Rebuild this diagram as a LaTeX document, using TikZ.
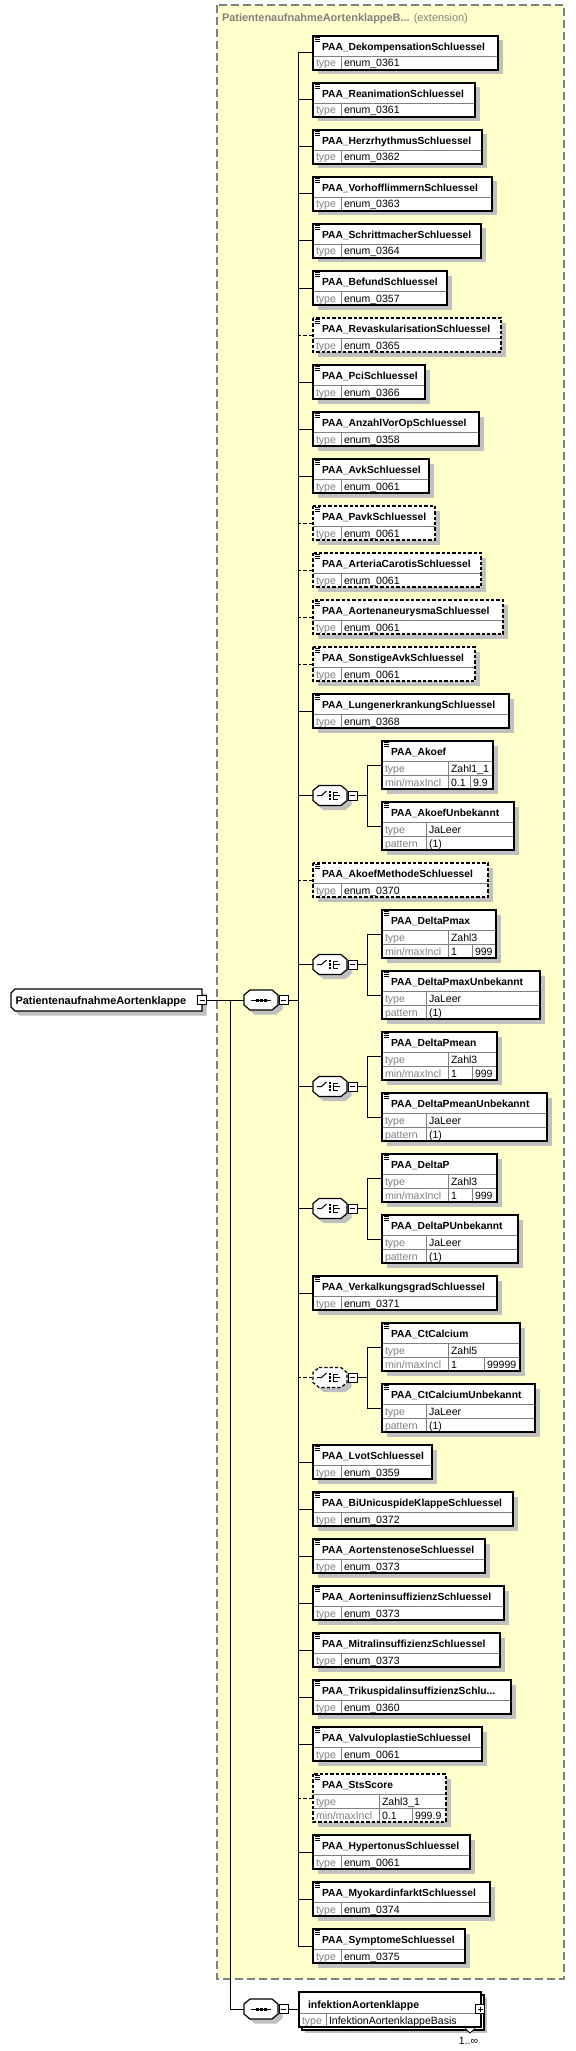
\documentclass[tikz,border=0pt]{standalone}
\usepackage{fontspec}
\setmainfont{Liberation Sans}
\definecolor{yfill}{RGB}{255,255,204}
\definecolor{dgray}{RGB}{128,128,128}
\definecolor{shad}{RGB}{192,192,192}
\definecolor{sepc}{RGB}{128,128,128}
\tikzset{
  every node/.style={inner sep=0pt, outer sep=0pt},
  nmf/.style={font=\fontsize{7.7}{9}\selectfont\bfseries, anchor=base west},
  lbf/.style={font=\fontsize{7.9}{9}\selectfont, text=dgray, anchor=base west},
  vlf/.style={font=\fontsize{7.9}{9}\selectfont, anchor=base west},
  bx/.style={draw=black, line width=0.9pt},
  optbx/.style={bx, dash pattern=on 2.4pt off 1.6pt},
  sp/.style={draw=sepc, line width=0.7pt},
  cn/.style={draw=black, line width=0.75pt},
  optcn/.style={cn, dash pattern=on 2.4pt off 1.6pt},
  shd/.style={fill=shad},
  smallbox/.style={fill=white, draw=black, line width=0.7pt},
}
\def\xsbx{bx}
\newcommand\xsicon[2]{%
  \draw[line width=0.5pt] (#1+2,#2+1.7) -- (#1+7,#2+1.7) (#1+2,#2+3.3) -- (#1+7,#2+3.3) (#1+2,#2+4.9) -- (#1+7,#2+4.9);}
% simple element: id, top, right, border style, connector style, name, type
\newcommand\xssel[7]{%
  \fill[shd] (317.5,#2+4.5) rectangle (#3+4.5,#2+38.5);
  \fill[white] (313,#2) rectangle (#3,#2+34);
  \draw[sp] (313,#2+20) -- (#3,#2+20) (341,#2+20) -- (341,#2+34);
  \draw[#4] (313,#2) rectangle (#3,#2+34);
  \xsicon{313}{#2}
  \node[nmf] (#1n) at (322,#2+14.7) {#6};
  \node[lbf] (#1l) at (316,#2+31) {type};
  \node[vlf] (#1v) at (344,#2+31) {#7};
  \coordinate (#1) at (313,#2+17);
  \draw[#5] (spine |- #1) -- (#1);
}
% min/max element: id, left, top, right, split, name, type, min, max
\newcommand\xsmm[9]{%
  \fill[shd] (#2+4.5,#3+4.5) rectangle (#4+4.5,#3+52.5);
  \fill[white] (#2,#3) rectangle (#4,#3+48);
  \draw[sp] (#2,#3+20) -- (#4,#3+20) (#2,#3+34) -- (#4,#3+34) (#2+66,#3+20) -- (#2+66,#3+48) (#5,#3+34) -- (#5,#3+48);
  \draw[\xsbx] (#2,#3) rectangle (#4,#3+48);
  \xsicon{#2}{#3}
  \node[nmf] (#1n) at (#2+9,#3+14.7) {#6};
  \node[lbf] (#1a) at (#2+3,#3+31) {type};
  \node[lbf] (#1b) at (#2+3,#3+45) {min/maxIncl};
  \node[vlf] (#1c) at (#2+69,#3+31) {#7};
  \node[vlf] (#1d) at (#2+69,#3+45) {#8};
  \node[vlf] (#1e) at (#5+3,#3+45) {#9};
  \coordinate (#1) at (#2,#3+24);
}
% pattern element: id, top, right, name
\newcommand\xspat[4]{%
  \fill[shd] (386.5,#2+4.5) rectangle (#3+4.5,#2+52.5);
  \fill[white] (382,#2) rectangle (#3,#2+48);
  \draw[sp] (382,#2+20) -- (#3,#2+20) (382,#2+34) -- (#3,#2+34) (426,#2+20) -- (426,#2+48);
  \draw[bx] (382,#2) rectangle (#3,#2+48);
  \xsicon{382}{#2}
  \node[nmf] (#1n) at (391,#2+14.7) {#4};
  \node[lbf] (#1a) at (385,#2+31) {type};
  \node[lbf] (#1b) at (385,#2+45) {pattern};
  \node[vlf] (#1c) at (429,#2+31) {JaLeer};
  \node[vlf] (#1d) at (429,#2+45) {(1)};
}
\newcommand\xsocta[5]{\path[#5] (#1+6,#3) -- (#2-6,#3) -- (#2,#3+5) -- (#2,#4-5) -- (#2-6,#4) -- (#1+6,#4) -- (#1,#4-5) -- (#1,#3+5) -- cycle;}
\newcommand\xsminus[2]{%
  \path[smallbox] (#1,#2-4.5) rectangle (#1+9,#2+4.5);
  \draw[line width=0.7pt] (#1+2,#2) -- (#1+7,#2);}
\newcommand\xsplus[2]{%
  \path[smallbox] (#1-4.5,#2-4.5) rectangle (#1+4.5,#2+4.5);
  \draw[line width=0.7pt] (#1-2.5,#2) -- (#1+2.5,#2) (#1,#2-2.5) -- (#1,#2+2.5);}
\newcommand\xschicon[2]{%
  \draw[cn] (#1-13,#2) -- (#1-8.5,#2) -- (#1-3.5,#2-4.5);
  \fill (#1-1.2,#2-4.7) rectangle (#1+1.2,#2-2.3);
  \fill (#1-1.2,#2-1.2) rectangle (#1+1.2,#2+1.2);
  \fill (#1-1.2,#2+2.3) rectangle (#1+1.2,#2+4.7);
  \draw[cn] (#1+7.5,#2-3.5) -- (#1+3.5,#2-3.5) -- (#1+3.5,#2+3.5) -- (#1+7.5,#2+3.5) (#1+3.5,#2) -- (#1+10,#2);}
\newcommand\xsseqicon[2]{%
  \draw[cn] (#1-10,#2) -- (#1+10,#2);
  \fill (#1-5.5,#2-1.5) rectangle (#1-2.5,#2+1.5);
  \fill (#1-1.5,#2-1.5) rectangle (#1+1.5,#2+1.5);
  \fill (#1+2.5,#2-1.5) rectangle (#1+5.5,#2+1.5);}
% choice group: id, top1, top2, symbol border, connector
\newcommand\xschoice[5]{%
  \pgfmathsetmacro\cyy{(#2+#3)/2+24}
  \coordinate (#1) at (313,\cyy);
  \draw[#5] (spine |- #1) -- (#1);
  \xsocta{317.5}{351.5}{\cyy-5.5}{\cyy+14.5}{shd}
  \xsocta{313}{347}{\cyy-10}{\cyy+10}{fill=white,#4}
  \xschicon{330}{\cyy}
  \xsminus{348}{\cyy}
  \coordinate (#1m) at (357,\cyy);
  \coordinate (#1v) at (367,\cyy);
  \coordinate (#1a) at (382,#2+24);
  \coordinate (#1b) at (382,#3+24);
  \draw[cn] (#1m) -- (#1v);
  \draw[cn] (#1v |- #1a) -- (#1v |- #1b);
  \draw[cn] (#1v |- #1a) -- (#1a);
  \draw[cn] (#1v |- #1b) -- (#1b);
}
\begin{document}
\begin{tikzpicture}[x=0.75pt,y=-0.75pt]
\useasboundingbox (0,0) rectangle (575,2051);
\fill[white] (0,0) rectangle (575,2051);
% extension box
\filldraw[fill=yfill, draw=dgray, line width=1pt, dash pattern=on 6pt off 3pt] (217,5) rectangle (564,1979);
\node[anchor=base west, font=\fontsize{8.2}{9}\selectfont, text=dgray] (title) at (222,22) {\textbf{PatientenaufnahmeAortenklappeB...} (extension)};
% spine
\coordinate (spine) at (298,53);
\coordinate (spineEnd) at (298,1946);
\draw[cn] (spine) -- (spineEnd);
% root
\fill[shd] (15.5,993.5) -- (206.5,993.5) -- (206.5,1015.5) -- (19.5,1015.5) -- (15.5,1011.5) -- cycle;
\filldraw[fill=white, bx] (15,989) -- (202,989) -- (202,1011) -- (15,1011) -- (11,1007) -- (11,993) -- cycle;
\node[anchor=base west, font=\fontsize{8.2}{9}\selectfont\bfseries] (root) at (15.5,1004) {PatientenaufnahmeAortenklappe};
\xsminus{197.5}{1000}
\coordinate (rootM) at (206.5,1000);
\coordinate (br) at (230,1000);
\coordinate (br2) at (230,2009);
\coordinate (seqA) at (244,1000);
\coordinate (seqB) at (244,2009);
\draw[cn] (rootM) -- (seqA);
\draw[cn] (br) -- (br2) -- (seqB);
% sequence 1
\xsocta{248.5}{282.5}{994.5}{1014.5}{shd}
\xsocta{244}{278}{990}{1010}{fill=white,bx}
\xsseqicon{261}{1000}
\xsminus{279}{1000}
\coordinate (seqAm) at (288,1000);
\draw[cn] (seqAm) -- (spine |- seqAm);
% elements
\xssel{e1}{36}{498}{bx}{cn}{PAA\_DekompensationSchluessel}{enum\_0361}
\xssel{e2}{83}{475}{bx}{cn}{PAA\_ReanimationSchluessel}{enum\_0361}
\xssel{e3}{130}{482}{bx}{cn}{PAA\_HerzrhythmusSchluessel}{enum\_0362}
\xssel{e4}{177}{492}{bx}{cn}{PAA\_VorhofflimmernSchluessel}{enum\_0363}
\xssel{e5}{224}{481}{bx}{cn}{PAA\_SchrittmacherSchluessel}{enum\_0364}
\xssel{e6}{271}{447}{bx}{cn}{PAA\_BefundSchluessel}{enum\_0357}
\xssel{e7}{318}{501}{optbx}{optcn}{PAA\_RevaskularisationSchluessel}{enum\_0365}
\xssel{e8}{365}{425}{bx}{cn}{PAA\_PciSchluessel}{enum\_0366}
\xssel{e9}{412}{479}{bx}{cn}{PAA\_AnzahlVorOpSchluessel}{enum\_0358}
\xssel{e10}{459}{429}{bx}{cn}{PAA\_AvkSchluessel}{enum\_0061}
\xssel{e11}{506}{435}{optbx}{optcn}{PAA\_PavkSchluessel}{enum\_0061}
\xssel{e12}{553}{481}{optbx}{optcn}{PAA\_ArteriaCarotisSchluessel}{enum\_0061}
\xssel{e13}{600}{503}{optbx}{optcn}{PAA\_AortenaneurysmaSchluessel}{enum\_0061}
\xssel{e14}{647}{475}{optbx}{optcn}{PAA\_SonstigeAvkSchluessel}{enum\_0061}
\xssel{e15}{694}{509}{bx}{cn}{PAA\_LungenerkrankungSchluessel}{enum\_0368}
\xschoice{cA}{741}{802}{bx}{cn}
\xsmm{akoef}{382}{741}{493}{470}{PAA\_Akoef}{Zahl1\_1}{0.1}{9.9}
\xspat{akoefu}{802}{514}{PAA\_AkoefUnbekannt}
\xssel{e17}{863}{488}{optbx}{optcn}{PAA\_AkoefMethodeSchluessel}{enum\_0370}
\xschoice{cB}{910}{971}{bx}{cn}
\xsmm{dpmax}{382}{910}{496}{472}{PAA\_DeltaPmax}{Zahl3}{1}{999}
\xspat{dpmaxu}{971}{540}{PAA\_DeltaPmaxUnbekannt}
\xschoice{cC}{1032}{1093}{bx}{cn}
\xsmm{dpmean}{382}{1032}{497}{472}{PAA\_DeltaPmean}{Zahl3}{1}{999}
\xspat{dpmeanu}{1093}{547}{PAA\_DeltaPmeanUnbekannt}
\xschoice{cD}{1154}{1215}{bx}{cn}
\xsmm{dp}{382}{1154}{497}{472}{PAA\_DeltaP}{Zahl3}{1}{999}
\xspat{dpu}{1215}{518}{PAA\_DeltaPUnbekannt}
\xssel{e21}{1276}{497}{bx}{cn}{PAA\_VerkalkungsgradSchluessel}{enum\_0371}
\xschoice{cE}{1323}{1384}{optbx}{optcn}
\xsmm{ctc}{382}{1323}{520}{484}{PAA\_CtCalcium}{Zahl5}{1}{99999}
\xspat{ctcu}{1384}{535}{PAA\_CtCalciumUnbekannt}
\xssel{e23}{1445}{432}{bx}{cn}{PAA\_LvotSchluessel}{enum\_0359}
\xssel{e24}{1492}{513}{bx}{cn}{PAA\_BiUnicuspideKlappeSchluessel}{enum\_0372}
\xssel{e25}{1539}{485}{bx}{cn}{PAA\_AortenstenoseSchluessel}{enum\_0373}
\xssel{e26}{1586}{504}{bx}{cn}{PAA\_AorteninsuffizienzSchluessel}{enum\_0373}
\xssel{e27}{1633}{500}{bx}{cn}{PAA\_MitralinsuffizienzSchluessel}{enum\_0373}
\xssel{e28}{1680}{511}{bx}{cn}{PAA\_TrikuspidalinsuffizienzSchlu...}{enum\_0360}
\xssel{e29}{1727}{482}{bx}{cn}{PAA\_ValvuloplastieSchluessel}{enum\_0061}
\def\xsbx{optbx}
\xsmm{sts}{313}{1774}{446}{412}{PAA\_StsScore}{Zahl3\_1}{0.1}{999.9}
\def\xsbx{bx}
\draw[optcn] (spine |- sts) -- (sts);
\xssel{e31}{1835}{470}{bx}{cn}{PAA\_HypertonusSchluessel}{enum\_0061}
\xssel{e32}{1882}{490}{bx}{cn}{PAA\_MyokardinfarktSchluessel}{enum\_0374}
\xssel{e33}{1929}{465}{bx}{cn}{PAA\_SymptomeSchluessel}{enum\_0375}
% sequence 2
\xsocta{248.5}{282.5}{2003.5}{2023.5}{shd}
\xsocta{244}{278}{1999}{2019}{fill=white,bx}
\xsseqicon{261}{2009}
\xsminus{279}{2009}
\coordinate (seqBm) at (288,2009);
\coordinate (inf) at (299,2009);
\draw[cn] (seqBm) -- (inf);
% infektion element (multiple)
\fill[shd] (305,1998) rectangle (487,2032.5);
\filldraw[fill=white, bx] (302,1995) rectangle (484,2030);
\fill[white] (299,1992) rectangle (481,2027);
\draw[sp] (299,2013) -- (481,2013) (326,2013) -- (326,2027);
\draw[bx] (299,1992) rectangle (481,2027);
\node[anchor=base west, font=\fontsize{7.9}{9}\selectfont\bfseries] (infn) at (308,2008) {infektionAortenklappe};
\node[lbf] (infl) at (302,2024) {type};
\node[vlf] (infv) at (329,2024) {InfektionAortenklappeBasis};
\xsplus{480}{2009}
\filldraw[fill=white, draw=black, line width=0.6pt] (465,2028.5) -- (470,2033) -- (475,2028.5);
\node[anchor=base east, font=\fontsize{7.9}{9}\selectfont] (mult) at (478,2044) {1..∞};
\end{tikzpicture}
\end{document}
